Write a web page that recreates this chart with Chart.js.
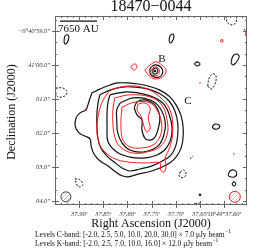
<!DOCTYPE html>
<html><head><meta charset="utf-8">
<script src="https://cdn.jsdelivr.net/npm/chart.js@4.4.0/dist/chart.umd.min.js"></script>
<style>html,body{margin:0;padding:0;background:#fff}#wrap{width:264px;height:252px;position:relative}</style>
</head><body><div id="wrap"><canvas id="c" width="264" height="252"></canvas></div>
<script>
// ---- axes (RA in seconds of 18h49m, Dec in arcsec relative to -0°41'00") ----
const raTicks = [37.90, 37.85, 37.80, 37.75, 37.70, 37.65, 37.60];
const raTickLabels = ['37.90ˢ', '37.85ˢ', '37.80ˢ', '37.75ˢ', '37.70ˢ', '37.65ˢ', '18ʰ49ᵐ37.60ˢ'];
const decTicks = [1, 0, -1, -2, -3, -4];
const decTickLabels = ['−0°40′59.0″', '41′00.0″', '01.0″', '02.0″', '03.0″', '04.0″'];
const raRange = [37.5529, 37.9496];
const decRange = [-4.12, 1.44];

// ---- C-band contours (black) ----
const cBand2p5 = [[37.873,-0.82],[37.857,-0.71],[37.836,-0.59],[37.820,-0.53],[37.799,-0.53],[37.778,-0.56],[37.757,-0.62],[37.733,-0.74],[37.712,-0.94],[37.698,-1.21],[37.689,-1.50],[37.685,-1.82],[37.685,-2.15],[37.689,-2.44],[37.698,-2.68],[37.712,-2.88],[37.733,-3.03],[37.757,-3.15],[37.778,-3.21],[37.799,-3.29],[37.811,-3.26],[37.824,-3.15],[37.840,-2.97],[37.857,-2.82],[37.869,-2.62],[37.875,-2.38],[37.877,-2.18],[37.888,-2.09],[37.900,-2.00],[37.908,-1.79],[37.906,-1.56],[37.898,-1.41],[37.886,-1.32],[37.881,-1.15],[37.877,-0.97]];
const cBand5 = [[37.857,-0.88],[37.836,-0.74],[37.811,-0.65],[37.784,-0.65],[37.757,-0.71],[37.733,-0.85],[37.714,-1.06],[37.702,-1.35],[37.696,-1.71],[37.696,-2.06],[37.700,-2.38],[37.710,-2.65],[37.727,-2.82],[37.749,-2.97],[37.774,-3.06],[37.795,-3.12],[37.811,-3.03],[37.828,-2.85],[37.842,-2.68],[37.855,-2.44],[37.861,-2.15],[37.863,-1.79],[37.863,-1.44],[37.861,-1.15]];
const cBand10 = [[37.836,-0.88],[37.801,-0.79],[37.760,-0.88],[37.727,-1.12],[37.712,-1.53],[37.708,-2.00],[37.718,-2.41],[37.739,-2.65],[37.768,-2.74],[37.795,-2.71],[37.822,-2.56],[37.840,-2.26],[37.842,-1.82],[37.842,-1.38],[37.840,-1.09]];
const cBand20 = [[37.815,-1.12],[37.788,-0.97],[37.753,-1.03],[37.733,-1.26],[37.722,-1.68],[37.726,-2.12],[37.739,-2.41],[37.768,-2.56],[37.795,-2.50],[37.811,-2.29],[37.820,-2.00],[37.822,-1.62],[37.822,-1.32]];
const cBand30 = [[37.786,-1.26],[37.780,-1.09],[37.764,-1.03],[37.743,-1.18],[37.733,-1.53],[37.737,-1.91],[37.743,-2.12],[37.753,-2.21],[37.764,-2.15],[37.770,-1.91],[37.770,-1.62],[37.780,-1.47]];
const cBandB2p5 = [[37.753,-0.09],[37.743,0.00],[37.731,-0.06],[37.727,-0.21],[37.733,-0.35],[37.745,-0.35],[37.753,-0.26]];
const cBandB5 = [[37.747,-0.12],[37.741,-0.09],[37.737,-0.18],[37.741,-0.26],[37.747,-0.24]];
const cBandIslands = [
  [[37.931,0.68],[37.929,0.85],[37.923,0.88],[37.921,0.79],[37.925,0.65],[37.929,0.62]],
  [[37.714,0.71],[37.712,0.85],[37.706,0.91],[37.704,0.82],[37.708,0.68],[37.712,0.65]],
  [[37.586,0.06],[37.582,0.26],[37.574,0.32],[37.569,0.24],[37.576,0.06],[37.582,0.00]],
  [[37.662,0.03],[37.656,0.09],[37.650,0.03],[37.656,-0.03]],
  [[37.625,-1.82],[37.619,-1.74],[37.609,-1.79],[37.613,-1.88],[37.621,-1.88]],
  [[37.592,-3.24],[37.588,-3.12],[37.580,-3.09],[37.574,-3.18],[37.578,-3.29],[37.588,-3.29]],
  [[37.584,-3.50],[37.580,-3.44],[37.576,-3.50],[37.580,-3.56]]
];
const cBandNegative = [
  [[37.596,1.44],[37.594,1.26],[37.586,1.18],[37.576,1.24],[37.574,1.44]],
  [[37.634,-0.62],[37.631,-0.38],[37.623,-0.26],[37.617,-0.32],[37.619,-0.56],[37.627,-0.71]],
  [[37.948,-0.68],[37.933,-0.68],[37.925,-0.79],[37.929,-0.91],[37.943,-0.94],[37.948,-0.82]],
  [[37.671,-2.76],[37.664,-2.68]],
  [[37.691,-3.15],[37.683,-3.09],[37.679,-3.24],[37.687,-3.32],[37.693,-3.26]],
  [[37.908,-3.35],[37.898,-3.38],[37.892,-3.53],[37.900,-3.59],[37.906,-3.47]],
  [[37.660,-4.09],[37.652,-4.06],[37.648,-4.12]]
];
const cBandPeaks = [[37.743,-0.18],[37.650,-3.82]];

// ---- K-band contours (red) ----
const kBand2p5 = [[37.836,-0.74],[37.801,-0.62],[37.764,-0.68],[37.733,-0.94],[37.712,-1.32],[37.706,-1.91],[37.712,-2.41],[37.722,-2.74],[37.720,-2.97],[37.724,-3.15],[37.731,-3.09],[37.733,-2.88],[37.753,-2.88],[37.774,-2.88],[37.801,-2.85],[37.826,-2.76],[37.844,-2.59],[37.857,-2.35],[37.863,-1.91],[37.859,-1.41],[37.850,-1.03]];
const kBand7 = [[37.826,-0.97],[37.795,-0.88],[37.753,-0.94],[37.729,-1.18],[37.718,-1.62],[37.718,-2.06],[37.733,-2.41],[37.760,-2.56],[37.789,-2.59],[37.815,-2.41],[37.826,-2.12],[37.830,-1.71],[37.830,-1.32]];
const kBand10 = [[37.811,-1.24],[37.784,-1.09],[37.753,-1.12],[37.737,-1.38],[37.729,-1.76],[37.733,-2.12],[37.747,-2.35],[37.770,-2.44],[37.795,-2.41],[37.809,-2.21],[37.813,-1.91],[37.813,-1.56]];
const kBand16 = [[37.778,-1.15],[37.764,-1.12],[37.753,-1.26],[37.757,-1.56],[37.753,-1.85],[37.760,-1.97],[37.766,-1.79],[37.772,-1.50],[37.780,-1.32]];
const kBandB2p5 = [[37.764,-0.15],[37.753,0.00],[37.741,0.09],[37.729,0.00],[37.720,-0.15],[37.727,-0.35],[37.743,-0.41],[37.755,-0.32]];
const kBandB7 = [[37.751,-0.15],[37.743,-0.06],[37.735,-0.12],[37.735,-0.26],[37.743,-0.32],[37.751,-0.26]];
const kBandIslands = [
  [[37.793,-0.06],[37.786,0.03],[37.780,-0.03],[37.786,-0.15]],
  [[37.607,0.74],[37.603,0.74],[37.603,0.68],[37.607,0.68]],
  [[37.887,-1.29],[37.885,-1.35]]
];
const kBandOpen = [[[37.559,1.06],[37.555,0.94],[37.557,0.85]]];
const kBandPeaks = [[37.650,-0.53],[37.580,-2.62]];

// ---- beams, scale bar, labels ----
const beamC = [[37.927,-3.88]];
const beamK = [[37.578,-3.88]];
const scaleBar = [[37.9393,1.29],[37.8628,1.29]];
const scaleBarLabel = '7650 AU';
const srcLabels = ['B', 'C'];
const srcLabelPos = [[37.7285,0.18],[37.6748,-1.06]];
const titleText = '18470−0044';
const xTitle = 'Right Ascension (J2000)';
const yTitle = 'Declination (J2000)';
const footC = 'Levels C-band: [-2.0, 2.5, 5.0, 10.0, 20.0, 30.0] × 7.0 μJy beam';
const footK = 'Levels K-band: [-2.0, 2.5, 7.0, 10.0, 16.0] × 12.0 μJy beam';

const BLACK = '#111111', RED = '#ff1a1a';
const SERIF = '"Liberation Serif", "DejaVu Serif", serif';
const toXY = a => a.map(p => ({x: p[0], y: p[1]}));
const closed = a => toXY(a.concat([a[0]]));
function contour(a, color, width, dash, close) {
  return {data: close === false ? toXY(a) : closed(a), showLine: true, borderColor: color, borderWidth: width,
    borderDash: dash || [], pointRadius: 0, tension: 0.4, fill: false};
}
function hatch(color, bg) {
  const p = document.createElement('canvas'); p.width = 4; p.height = 4;
  const g = p.getContext('2d'); g.fillStyle = bg; g.fillRect(0,0,4,4);
  g.strokeStyle = color; g.lineWidth = 0.8;
  g.beginPath(); g.moveTo(0,4); g.lineTo(4,0); g.stroke();
  return g.createPattern(p, 'repeat');
}
const ctx0 = document.getElementById('c').getContext('2d');
const datasets = [];
cBandIslands.forEach(a => datasets.push(contour(a, BLACK, 1.1)));
cBandNegative.forEach((a,i) => datasets.push(contour(a, BLACK, 1.0, [2,1.5], i === 0 || i === 3 || i === 6 ? false : true)));
kBandIslands.forEach(a => datasets.push(contour(a, RED, 1.0)));
kBandOpen.forEach(a => datasets.push(contour(a, RED, 1.0, [], false)));
[kBand2p5, kBand7, kBand10, kBand16, kBandB2p5, kBandB7].forEach(a => datasets.push(contour(a, RED, 1.0)));
[cBand2p5, cBand5, cBand10, cBand20, cBand30, cBandB2p5, cBandB5].forEach(a => datasets.push(contour(a, BLACK, 1.2)));
datasets.push({data: toXY(cBandPeaks), showLine: false, pointRadius: 1.3, backgroundColor: BLACK, borderWidth: 0});
datasets.push({data: toXY(kBandPeaks), showLine: false, pointRadius: 0.8, backgroundColor: RED, borderWidth: 0});
datasets.push({data: toXY(beamC), showLine: false, pointRadius: 5, backgroundColor: hatch('#aaaaaa', '#ffffff'), borderColor: '#444444', borderWidth: 1});
datasets.push({data: toXY(beamK), showLine: false, pointRadius: 5.5, backgroundColor: hatch('#ffaaaa', '#ffffff'), borderColor: RED, borderWidth: 1});
datasets.push({data: toXY(scaleBar), showLine: true, borderColor: BLACK, borderWidth: 1.3, pointRadius: 0, tension: 0});

const frame = {
  id: 'frame',
  afterDraw(chart) {
    const c = chart.ctx, a = chart.chartArea, xs = chart.scales.x, ys = chart.scales.y;
    c.save();
    c.strokeStyle = '#666'; c.lineWidth = 1;
    c.strokeRect(a.left + 0.5, a.top + 0.5, a.right - a.left - 1, a.bottom - a.top - 1);
    c.beginPath();
    for (let v = 37.95; v >= 37.55; v -= 0.0125) {
      const px = Math.round(xs.getPixelForValue(v)) + 0.5;
      if (px < a.left + 1 || px > a.right - 1) continue;
      const major = Math.abs(v * 20 - Math.round(v * 20)) < 1e-6;
      const L = major ? 4 : 2;
      c.moveTo(px, a.bottom); c.lineTo(px, a.bottom - L);
      c.moveTo(px, a.top); c.lineTo(px, a.top + L);
      if (major) { c.moveTo(px, a.bottom); c.lineTo(px, a.bottom + 3); }
    }
    for (let k = -15; k <= 6; k++) {
      const v = k / 3;
      const py = Math.round(ys.getPixelForValue(v)) + 0.5;
      if (py < a.top + 1 || py > a.bottom - 1) continue;
      const major = k % 3 === 0;
      const L = major ? 4 : 2;
      c.moveTo(a.left, py); c.lineTo(a.left + L, py);
      c.moveTo(a.right, py); c.lineTo(a.right - L, py);
      if (major) { c.moveTo(a.left, py); c.lineTo(a.left - 3, py); }
    }
    c.stroke();
    c.fillStyle = '#111';
    c.textAlign = 'center'; c.textBaseline = 'middle';
    c.font = '16px ' + SERIF;
    c.fillText(titleText, (a.left + a.right) / 2, 7);
    c.font = '12px ' + SERIF;
    c.fillText(xTitle, (a.left + a.right) / 2, 224);
    c.save(); c.translate(12, 112); c.rotate(-Math.PI / 2); c.fillText(yTitle, 0, 0); c.restore();
    c.font = '11px ' + SERIF;
    srcLabels.forEach((t, i) => c.fillText(t, xs.getPixelForValue(srcLabelPos[i][0]), ys.getPixelForValue(srcLabelPos[i][1])));
    c.textAlign = 'left';
    c.fillText(scaleBarLabel, xs.getPixelForValue(scaleBar[0][0]) - 2, ys.getPixelForValue(scaleBar[0][1]) + 8);
    [footC, footK].forEach((t, i) => {
      const y = 235 + i * 9, x = 35;
      c.font = '7.5px ' + SERIF; c.fillText(t, x, y);
      const w = c.measureText(t).width;
      c.font = '5.5px ' + SERIF; c.fillText('−1', x + w + 0.5, y - 3);
    });
    c.restore();
  }
};

new Chart(ctx0, {
  type: 'scatter',
  data: {datasets},
  plugins: [frame],
  options: {
    responsive: false, animation: false, devicePixelRatio: 1,
    layout: {padding: {top: 16, right: 17, left: 0, bottom: 0}},
    plugins: {legend: {display: false}, tooltip: {enabled: false}},
    scales: {
      x: {type: 'linear', reverse: true, min: raRange[0], max: raRange[1],
        afterBuildTicks: s => { s.ticks = raTicks.map(v => ({value: v})); },
        afterFit: s => { s.height = 47; },
        ticks: {autoSkip: false, maxRotation: 0, padding: 5, color: '#333',
          font: {family: SERIF, size: 6.5, style: 'italic'},
          callback: (v, i) => raTickLabels[i]},
        grid: {display: false, drawTicks: false}, border: {display: false}},
      y: {type: 'linear', min: decRange[0], max: decRange[1],
        afterBuildTicks: s => { s.ticks = decTicks.map(v => ({value: v})); },
        afterFit: s => { s.width = 55; },
        ticks: {autoSkip: false, padding: 5, color: '#333',
          font: {family: SERIF, size: 6.5, style: 'italic'},
          callback: (v, i) => decTickLabels[i]},
        grid: {display: false, drawTicks: false}, border: {display: false}}
    }
  }
});
</script></body></html>
